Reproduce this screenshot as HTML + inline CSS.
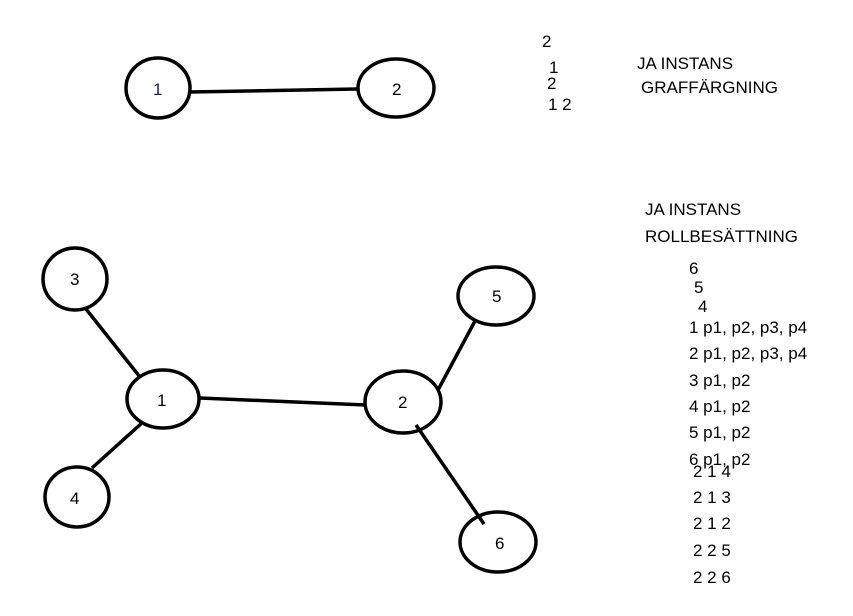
<!DOCTYPE html>
<html><head><meta charset="utf-8"><style>
html,body{margin:0;padding:0;background:#fff;}
svg text{font-family:"Liberation Sans",sans-serif;font-size:17px;fill:#000;}
</style></head><body>
<svg width="853" height="611" viewBox="0 0 853 611" xmlns="http://www.w3.org/2000/svg">
<g fill="none" stroke="#000" stroke-width="3.5">
<line x1="190" y1="92" x2="357" y2="89"/>
<ellipse cx="158" cy="88" rx="32" ry="30"/>
<ellipse cx="396" cy="88" rx="38" ry="29"/>
<line x1="86" y1="309" x2="140" y2="377"/>
<line x1="200" y1="398" x2="366" y2="405"/>
<line x1="92" y1="468" x2="143" y2="422"/>
<line x1="438" y1="390" x2="475" y2="321"/>
<line x1="416" y1="425" x2="484" y2="524"/>
<ellipse cx="75" cy="279" rx="32" ry="31"/>
<ellipse cx="163" cy="399" rx="36" ry="29"/>
<ellipse cx="77" cy="497" rx="32" ry="30"/>
<ellipse cx="403" cy="402" rx="38" ry="31"/>
<ellipse cx="496" cy="296" rx="38" ry="29"/>
<ellipse cx="498" cy="542" rx="38" ry="30"/>
</g>
<text x="153" y="95" style="fill:#1a1a5a">1</text>
<text x="392" y="95">2</text>
<text x="70" y="285">3</text>
<text x="157" y="406">1</text>
<text x="70" y="504">4</text>
<text x="398" y="408">2</text>
<text x="492" y="302">5</text>
<text x="495" y="549">6</text>
<text x="542" y="47">2</text>
<text x="549" y="73">1</text>
<text x="547" y="89">2</text>
<text x="548" y="110">1 2</text>
<text x="637" y="69">JA INSTANS</text>
<text x="641" y="93">GRAFFÄRGNING</text>
<text x="645" y="215">JA INSTANS</text>
<text x="645" y="242">ROLLBESÄTTNING</text>
<text x="689" y="274">6</text>
<text x="694" y="293">5</text>
<text x="698" y="312">4</text>
<text x="689" y="333">1 p1, p2, p3, p4</text>
<text x="689" y="359">2 p1, p2, p3, p4</text>
<text x="689" y="386">3 p1, p2</text>
<text x="689" y="412">4 p1, p2</text>
<text x="689" y="438">5 p1, p2</text>
<text x="689" y="465">6 p1, p2</text>
<text x="693" y="477">2 1 4</text>
<text x="693" y="503">2 1 3</text>
<text x="693" y="529">2 1 2</text>
<text x="693" y="556">2 2 5</text>
<text x="693" y="583">2 2 6</text>
</svg>
</body></html>
